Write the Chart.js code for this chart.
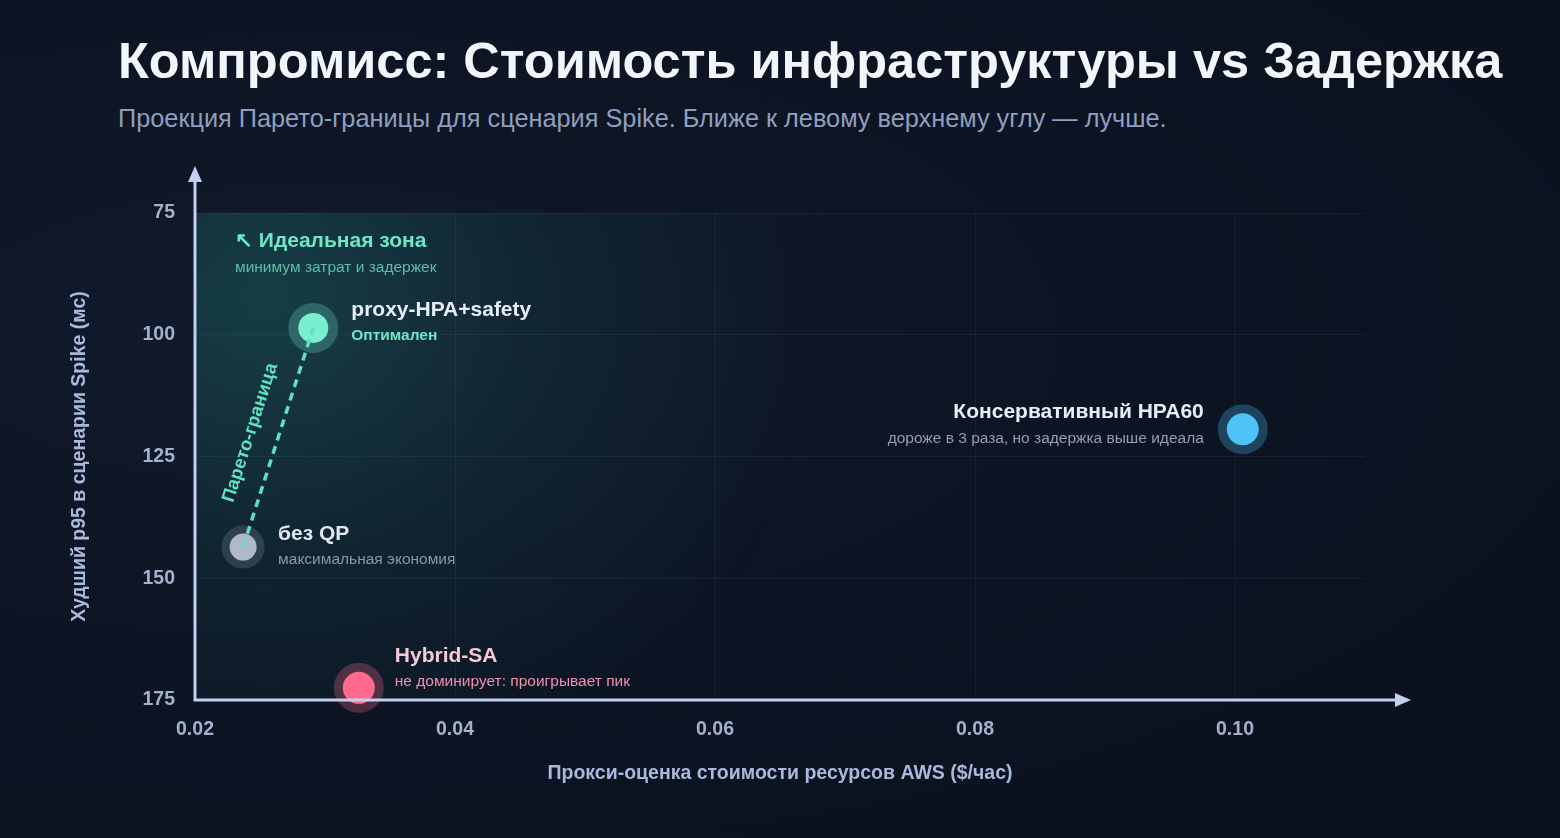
<!DOCTYPE html>
<html>
<head>
<meta charset="utf-8">
<script src="https://cdn.jsdelivr.net/npm/chart.js@4.4.1/dist/chart.umd.min.js"></script>
<style>
html, body { margin: 0; padding: 0; width: 1560px; height: 838px; overflow: hidden; }
body {
    background: radial-gradient(ellipse at 20% 40%, #111a2b 0%, #0c1322 55%, #0a101d 100%);
    font-family: "Liberation Sans", Arial, sans-serif;
}
#wrap { position: relative; width: 1560px; height: 838px; }
h1 {
    position: absolute; left: 118px; top: 36px; margin: 0;
    font-size: 50.5px; line-height: 1; font-weight: 700; color: #f2f5fa;
}
.sub {
    position: absolute; left: 118px; top: 106px; margin: 0;
    font-size: 25.3px; line-height: 1; color: #8f9fbf;
}
canvas { position: absolute; left: 0; top: 0; }
</style>
</head>
<body>
<div id="wrap">
    <h1>Компромисс: Стоимость инфраструктуры vs Задержка</h1>
    <p class="sub">Проекция Парето-границы для сценария Spike. Ближе к левому верхнему углу — лучше.</p>
    <canvas id="tradeoffChart" width="1560" height="838"></canvas>
</div>
<script>
const strategies = ['proxy-HPA+safety', 'без QP', 'Hybrid-SA', 'Консервативный HPA60'];
const notes = ['Оптимален', 'максимальная экономия', 'не доминирует: проигрывает пик', 'дороже в 3 раза, но задержка выше идеала'];
const costPerHour = [0.0291, 0.0237, 0.0326, 0.1006];
const p95Spike = [98.6, 143.6, 172.5, 119.4];
const paretoFront = ['без QP', 'proxy-HPA+safety'];
const xTicks = [0.02, 0.04, 0.06, 0.08, 0.10];
const yTicks = [75, 100, 125, 150, 175];

// цвета и подписи
const coreColors = ['#78efcf', '#b8bfcd', '#ff6a8c', '#4fc3f7'];
const haloColors = ['rgba(120,239,207,0.25)', 'rgba(148,163,184,0.22)', 'rgba(255,106,140,0.28)', 'rgba(79,195,247,0.28)'];
const coreRadius = [15, 13.5, 16, 16];
const haloRadius = [25, 21.5, 25, 25];
const nameColors = ['#e8eef8', '#e2e7f0', '#f7c9d8', '#e8eef8'];
const noteColors = ['#6ee7c7', '#8a96ad', '#f28fab', '#929fb8'];
// смещение подписи от точки: [dx, dy названия, dy примечания, выравнивание]
const labelLayout = [
    [38, -18, 8, 'left'],
    [35, -13, 13, 'left'],
    [36, -32, -6, 'left'],
    [-39, -17, 9, 'right']
];

const FONT = '"Liberation Sans", Arial, sans-serif';
const points = strategies.map((s, i) => ({ x: costPerHour[i], y: p95Spike[i] }));
const frontPoints = paretoFront.map(n => points[strategies.indexOf(n)]);

const decor = {
    id: 'decor',
    beforeDatasetsDraw(chart) {
        const { ctx, chartArea: a } = chart;
        ctx.save();
        const g = ctx.createRadialGradient(a.left + 70, a.top + 80, 0, a.left + 70, a.top + 80, 560);
        g.addColorStop(0, 'rgba(45, 190, 170, 0.22)');
        g.addColorStop(0.5, 'rgba(45, 190, 170, 0.08)');
        g.addColorStop(1, 'rgba(45, 190, 170, 0)');
        ctx.fillStyle = g;
        ctx.fillRect(a.left, a.top, a.right - a.left, a.bottom - a.top);
        ctx.restore();
    },
    afterDatasetsDraw(chart) {
        const { ctx, chartArea: a, scales: { x, y } } = chart;
        ctx.save();

        // оси со стрелками
        ctx.strokeStyle = '#c3cff0';
        ctx.fillStyle = '#c3cff0';
        ctx.lineWidth = 3;
        ctx.beginPath();
        ctx.moveTo(a.left, a.bottom + 1.5);
        ctx.lineTo(a.left, 180);
        ctx.moveTo(a.left - 1.5, a.bottom);
        ctx.lineTo(a.right + 33, a.bottom);
        ctx.stroke();
        ctx.beginPath();
        ctx.moveTo(a.left, 166);
        ctx.lineTo(a.left - 7, 182);
        ctx.lineTo(a.left + 7, 182);
        ctx.closePath();
        ctx.fill();
        ctx.beginPath();
        ctx.moveTo(a.right + 46, a.bottom);
        ctx.lineTo(a.right + 30, a.bottom - 7);
        ctx.lineTo(a.right + 30, a.bottom + 7);
        ctx.closePath();
        ctx.fill();

        // идеальная зона
        ctx.textBaseline = 'middle';
        ctx.textAlign = 'left';
        ctx.fillStyle = '#6ee7c7';
        ctx.font = 'bold 21px ' + FONT;
        ctx.fillText('↖ Идеальная зона', a.left + 40, a.top + 28);
        ctx.fillStyle = '#5cbfa6';
        ctx.font = '15.5px ' + FONT;
        ctx.fillText('минимум затрат и задержек', a.left + 40, a.top + 55);

        // подпись Парето-границы
        const p0 = { x: x.getPixelForValue(frontPoints[0].x), y: y.getPixelForValue(frontPoints[0].y) };
        const p1 = { x: x.getPixelForValue(frontPoints[1].x), y: y.getPixelForValue(frontPoints[1].y) };
        const ang = Math.atan2(p1.y - p0.y, p1.x - p0.x);
        const mx = (p0.x + p1.x) / 2, my = (p0.y + p1.y) / 2;
        ctx.save();
        ctx.translate(mx + Math.sin(ang) * 28, my - Math.cos(ang) * 28);
        ctx.rotate(ang);
        ctx.textAlign = 'center';
        ctx.fillStyle = '#5fe3c0';
        ctx.font = 'bold 18.5px ' + FONT;
        ctx.fillText('Парето-граница', -4, 0);
        ctx.restore();

        // подписи точек
        points.forEach((p, i) => {
            const px = x.getPixelForValue(p.x), py = y.getPixelForValue(p.y);
            const [dx, dyName, dyNote, align] = labelLayout[i];
            ctx.textAlign = align;
            ctx.fillStyle = nameColors[i];
            ctx.font = 'bold 21px ' + FONT;
            ctx.fillText(strategies[i], px + dx, py + dyName);
            ctx.fillStyle = noteColors[i];
            ctx.font = (i === 0 ? 'bold ' : '') + '15.5px ' + FONT;
            ctx.fillText(notes[i], px + dx, py + dyNote);
        });
        ctx.restore();
    }
};

const ctx = document.getElementById('tradeoffChart').getContext('2d');
new Chart(ctx, {
    type: 'scatter',
    data: {
        datasets: [
            {
                type: 'line',
                label: 'Парето-граница',
                data: frontPoints,
                borderColor: '#5fe0bf',
                borderWidth: 3.5,
                borderDash: [8, 6],
                pointRadius: 0,
                fill: false,
                clip: false
            },
            {
                label: 'halo',
                data: points,
                backgroundColor: haloColors,
                borderWidth: 0,
                pointRadius: haloRadius,
                pointHoverRadius: haloRadius,
                clip: false
            },
            {
                label: 'Стратегии',
                data: points,
                backgroundColor: coreColors,
                borderWidth: 0,
                pointRadius: coreRadius,
                pointHoverRadius: coreRadius,
                clip: false
            }
        ]
    },
    options: {
        responsive: false,
        animation: false,
        events: [],
        layout: {
            padding: { top: 213, right: 195, bottom: 49, left: 64 }
        },
        plugins: {
            legend: { display: false },
            tooltip: { enabled: false }
        },
        scales: {
            x: {
                type: 'linear',
                min: 0.02,
                max: 0.11,
                afterFit: (scale) => { scale.height = 89; },
                afterBuildTicks: (scale) => { scale.ticks = xTicks.map(v => ({ value: v })); },
                border: { display: false },
                grid: { color: 'rgba(148, 163, 184, 0.09)', lineWidth: 1, drawTicks: false },
                ticks: {
                    padding: 18,
                    color: '#a3b1cc',
                    font: { family: FONT, size: 19.5, weight: 'bold' },
                    callback: (v) => v.toFixed(2)
                },
                title: {
                    display: true,
                    text: 'Прокси-оценка стоимости ресурсов AWS ($/час)',
                    color: '#a9b9dc',
                    font: { family: FONT, size: 19.5, weight: 'bold' }
                }
            },
            y: {
                type: 'linear',
                reverse: true,
                min: 75,
                max: 175,
                afterFit: (scale) => { scale.width = 131; },
                afterBuildTicks: (scale) => { scale.ticks = yTicks.map(v => ({ value: v })); },
                border: { display: false },
                grid: { color: 'rgba(148, 163, 184, 0.09)', lineWidth: 1, drawTicks: false },
                ticks: {
                    padding: 20,
                    color: '#a3b1cc',
                    font: { family: FONT, size: 19.5, weight: 'bold' }
                },
                title: {
                    display: true,
                    text: 'Худший p95 в сценарии Spike (мс)',
                    color: '#a9b9dc',
                    font: { family: FONT, size: 19.5, weight: 'bold' }
                }
            }
        }
    },
    plugins: [decor]
});
</script>
</body>
</html>
